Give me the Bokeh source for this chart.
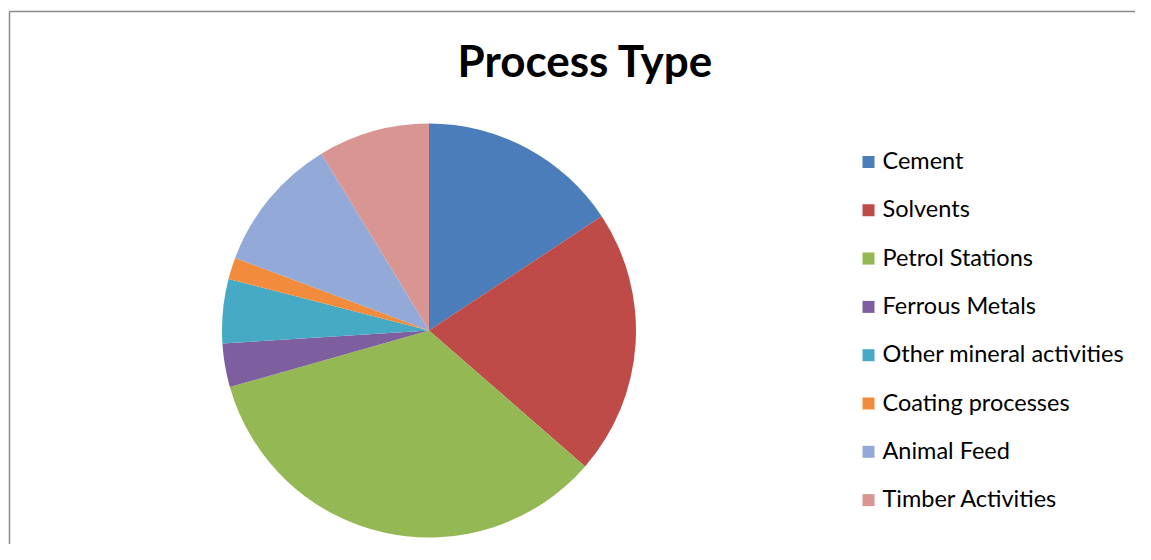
import math
from bokeh.plotting import figure
from bokeh.models import Range1d
from bokeh.core.properties import value
from bokeh.embed import file_html
from bokeh.resources import INLINE

# ---- data ----
categories = ["Cement", "Solvents", "Petrol Stations", "Ferrous Metals",
              "Other mineral activities", "Coating processes", "Animal Feed",
              "Timber Activities"]
shares = [15.7, 20.7, 34.2, 3.4, 5.0, 1.7, 10.6, 8.7]
colors = ["#4A7DBA", "#BE4B48", "#94B853", "#7D5FA0", "#46AAC4", "#F28C3C",
          "#93AAD8", "#D99592"]
title_text = "Process Type"

W, H = 1135, 544
p = figure(width=W, height=H, output_backend="svg", toolbar_location=None,
           x_range=Range1d(0, W), y_range=Range1d(0, H),
           min_border=0, min_border_left=0, min_border_right=0,
           min_border_top=0, min_border_bottom=0)
p.axis.visible = False
p.grid.visible = False
p.outline_line_color = None
p.background_fill_color = "white"
p.border_fill_color = "white"

# chart-area border (top and left edges visible)
p.segment(x0=[9, 9], y0=[H - 11, H - 11], x1=[W, 9], y1=[H - 11, 0],
          line_color="#8a8a8a", line_width=1.5)

cx, cy, r = 428.5, H - 330, 207
total = sum(shares)
cum = 0.0
starts, ends = [], []
for s in shares:
    a0 = math.pi / 2 - 2 * math.pi * cum / total
    cum += s
    a1 = math.pi / 2 - 2 * math.pi * cum / total
    starts.append(a0)
    ends.append(a1)

p.wedge(x=[cx] * len(shares), y=[cy] * len(shares), radius=r,
        start_angle=starts, end_angle=ends, direction="clock",
        fill_color=colors, line_color=None)

# title
p.text(x=[585], y=[H - 59], text=[title_text], text_font=value("Lato"),
       text_font_style="bold", text_font_size="44px", text_color="black",
       text_align="center", text_baseline="middle")

# legend
dy = 48.3
mid0 = 159.5
ys = [H - (mid0 + i * dy) for i in range(len(categories))]
p.rect(x=[868] * len(categories), y=[yy - 2 for yy in ys], width=12, height=12,
       fill_color=colors, line_color=None)
p.text(x=[882] * len(categories), y=ys, text=categories,
       text_font=value("Lato"), text_font_size="23.5px", text_color="black",
       text_align="left", text_baseline="middle")

open("out.html", "w").write(file_html(p, INLINE))
